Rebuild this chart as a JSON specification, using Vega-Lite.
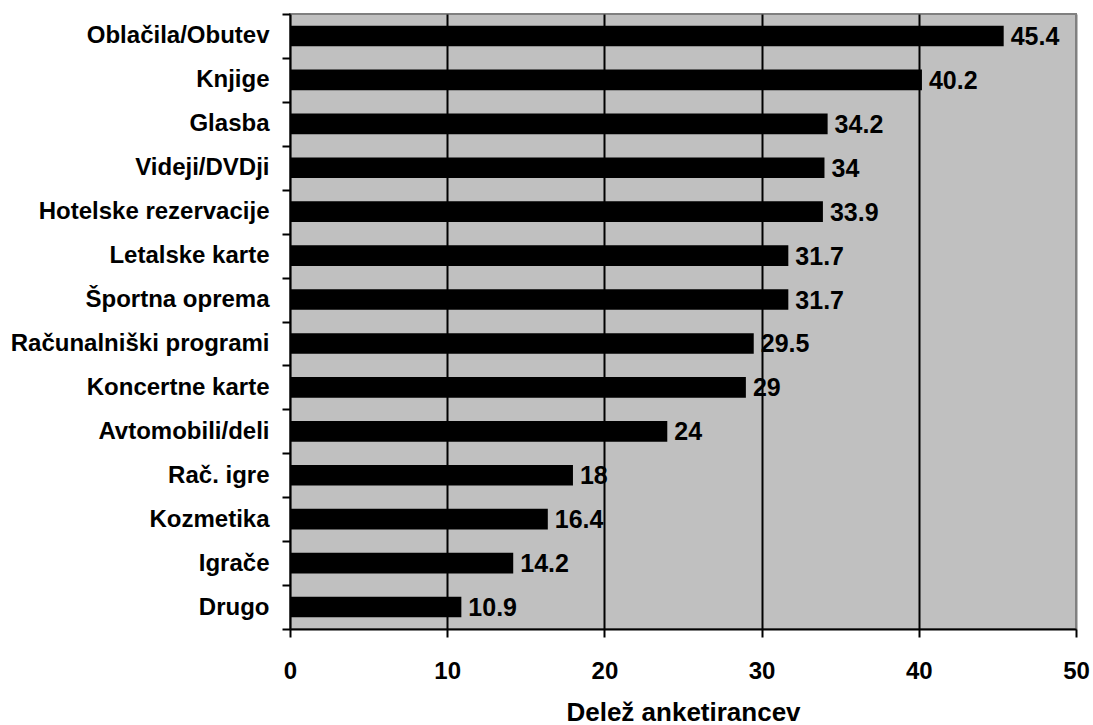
{
  "$schema": "https://vega.github.io/schema/vega-lite/v6.json",
  "autosize": "none",
  "width": 786,
  "height": 615,
  "padding": {"left": 290, "top": 14, "right": 17, "bottom": 96},
  "background": "white",
  "config": {
    "font": "Liberation Sans",
    "view": {"fill": "#c0c0c0", "stroke": "#808080", "strokeWidth": 2}
  },
  "data": {
    "values": [
      {"kategorija": "Oblačila/Obutev", "delez": 45.4},
      {"kategorija": "Knjige", "delez": 40.2},
      {"kategorija": "Glasba", "delez": 34.2},
      {"kategorija": "Videji/DVDji", "delez": 34},
      {"kategorija": "Hotelske rezervacije", "delez": 33.9},
      {"kategorija": "Letalske karte", "delez": 31.7},
      {"kategorija": "Športna oprema", "delez": 31.7},
      {"kategorija": "Računalniški programi", "delez": 29.5},
      {"kategorija": "Koncertne karte", "delez": 29},
      {"kategorija": "Avtomobili/deli", "delez": 24},
      {"kategorija": "Rač. igre", "delez": 18},
      {"kategorija": "Kozmetika", "delez": 16.4},
      {"kategorija": "Igrače", "delez": 14.2},
      {"kategorija": "Drugo", "delez": 10.9}
    ]
  },
  "encoding": {
    "y": {
      "field": "kategorija",
      "type": "nominal",
      "sort": null,
      "scale": {"paddingInner": 0, "paddingOuter": 0},
      "axis": {
        "title": null,
        "tickBand": "extent",
        "domainColor": "black",
        "domainWidth": 2,
        "tickColor": "black",
        "tickWidth": 2,
        "tickSize": 8,
        "labelFont": "Liberation Sans",
        "labelFontWeight": "bold",
        "labelFontSize": 24,
        "labelColor": "black",
        "labelPadding": 13,
        "labelLimit": 400
      }
    },
    "x": {
      "field": "delez",
      "type": "quantitative",
      "scale": {"domain": [0, 50], "nice": false},
      "axis": {
        "title": "Delež anketirancev",
        "values": [0, 10, 20, 30, 40, 50],
        "grid": true,
        "gridColor": {"condition": {"test": "datum.value === 0 || datum.value === 50", "value": "#808080"}, "value": "black"},
        "gridWidth": 2,
        "gridOpacity": 1,
        "domainColor": "black",
        "domainWidth": 2,
        "tickColor": "black",
        "tickWidth": 2,
        "tickSize": 8,
        "labelFlush": false,
        "labelFont": "Liberation Sans",
        "labelFontWeight": "bold",
        "labelFontSize": 24,
        "labelColor": "black",
        "labelPadding": 22,
        "titleFont": "Liberation Sans",
        "titleFontWeight": "bold",
        "titleFontSize": 26,
        "titleColor": "black",
        "titlePadding": 16
      }
    }
  },
  "layer": [
    {"mark": {"type": "bar", "color": "black", "height": {"band": 0.47}}},
    {
      "mark": {"type": "text", "align": "left", "baseline": "middle", "dx": 7, "dy": 1, "font": "Liberation Sans", "fontWeight": "bold", "fontSize": 25, "color": "black"},
      "encoding": {"text": {"field": "delez", "type": "quantitative", "format": "~g"}}
    }
  ]
}
